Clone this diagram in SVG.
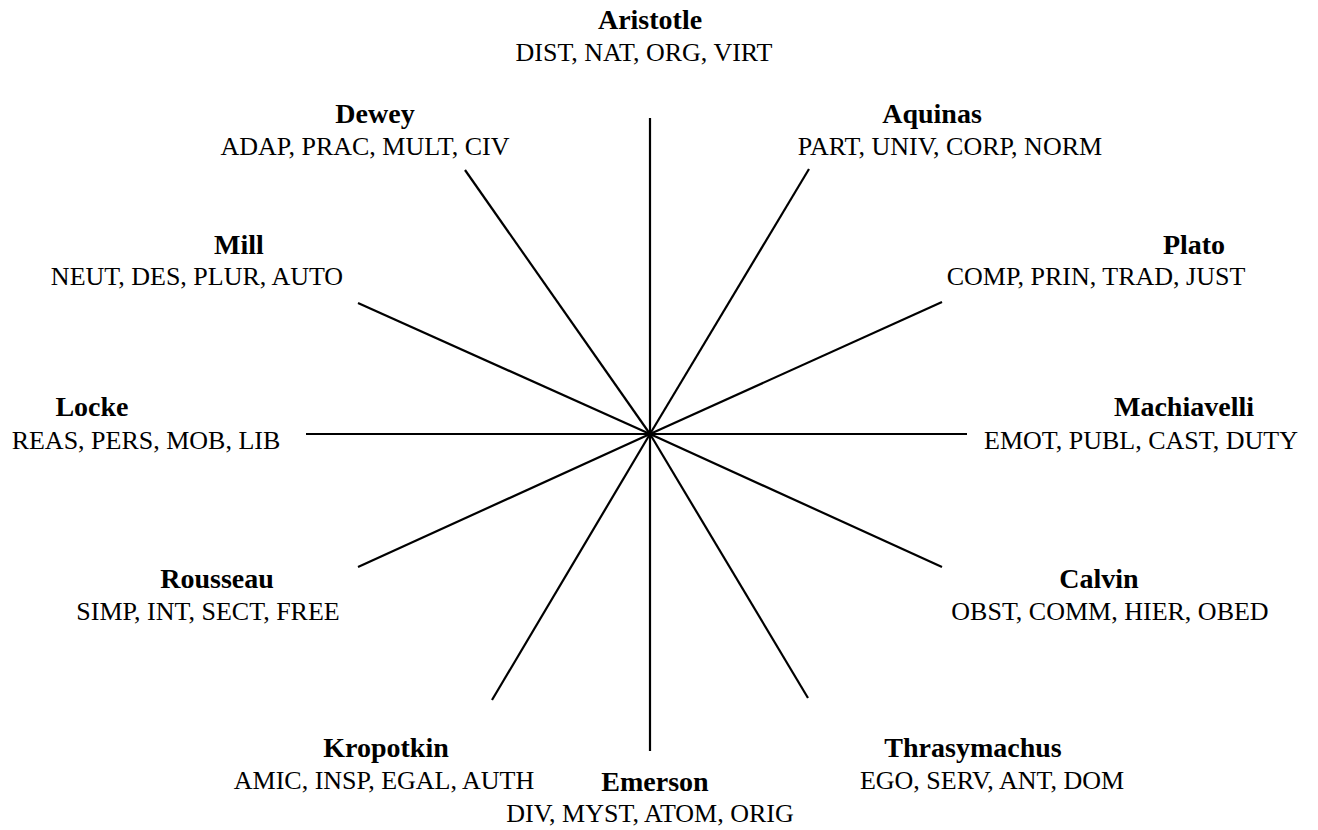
<svg xmlns="http://www.w3.org/2000/svg" width="1318" height="830" viewBox="0 0 1318 830">
<style>
.n{font-weight:bold;font-size:28px}
.c{font-size:26px}
.l{stroke:#000;stroke-width:2.2;fill:none;stroke-linecap:butt}
</style>
<rect width="1318" height="830" fill="#fff"/>
<g id="connectors">
<line class="l" x1="650" y1="434" x2="650" y2="118"/>
<line class="l" x1="650" y1="434" x2="650" y2="751"/>
<line class="l" x1="650" y1="434" x2="306" y2="434"/>
<line class="l" x1="650" y1="434" x2="967" y2="434"/>
<line class="l" x1="650" y1="434" x2="465" y2="170"/>
<line class="l" x1="650" y1="434" x2="809" y2="169"/>
<line class="l" x1="650" y1="434" x2="358" y2="303"/>
<line class="l" x1="650" y1="434" x2="942" y2="302"/>
<line class="l" x1="650" y1="434" x2="358" y2="567"/>
<line class="l" x1="650" y1="434" x2="942" y2="567"/>
<line class="l" x1="650" y1="434" x2="492" y2="700"/>
<line class="l" x1="650" y1="434" x2="808" y2="698"/>
</g>
<g font-family="Liberation Serif, Tinos, DejaVu Serif, serif" fill="#000" text-anchor="middle">
<g id="aristotle"><text class="n" x="650" y="29">Aristotle</text><text class="c" x="644" y="61">DIST, NAT, ORG, VIRT</text></g>
<g id="dewey"><text class="n" x="375" y="123">Dewey</text><text class="c" x="365" y="155">ADAP, PRAC, MULT, CIV</text></g>
<g id="aquinas"><text class="n" x="932" y="123">Aquinas</text><text class="c" x="950" y="155">PART, UNIV, CORP, NORM</text></g>
<g id="mill"><text class="n" x="239" y="254">Mill</text><text class="c" x="197" y="285">NEUT, DES, PLUR, AUTO</text></g>
<g id="plato"><text class="n" x="1194" y="254">Plato</text><text class="c" x="1096" y="285">COMP, PRIN, TRAD, JUST</text></g>
<g id="locke"><text class="n" x="92" y="416">Locke</text><text class="c" x="146" y="449">REAS, PERS, MOB, LIB</text></g>
<g id="machiavelli"><text class="n" x="1184" y="416">Machiavelli</text><text class="c" x="1141" y="449">EMOT, PUBL, CAST, DUTY</text></g>
<g id="rousseau"><text class="n" x="217" y="588">Rousseau</text><text class="c" x="208" y="620">SIMP, INT, SECT, FREE</text></g>
<g id="calvin"><text class="n" x="1099" y="588">Calvin</text><text class="c" x="1110" y="620">OBST, COMM, HIER, OBED</text></g>
<g id="kropotkin"><text class="n" x="386" y="757">Kropotkin</text><text class="c" x="384" y="789">AMIC, INSP, EGAL, AUTH</text></g>
<g id="thrasymachus"><text class="n" x="973" y="757">Thrasymachus</text><text class="c" x="992" y="789">EGO, SERV, ANT, DOM</text></g>
<g id="emerson"><text class="n" x="655" y="791">Emerson</text><text class="c" x="650" y="822">DIV, MYST, ATOM, ORIG</text></g>
</g>
</svg>
